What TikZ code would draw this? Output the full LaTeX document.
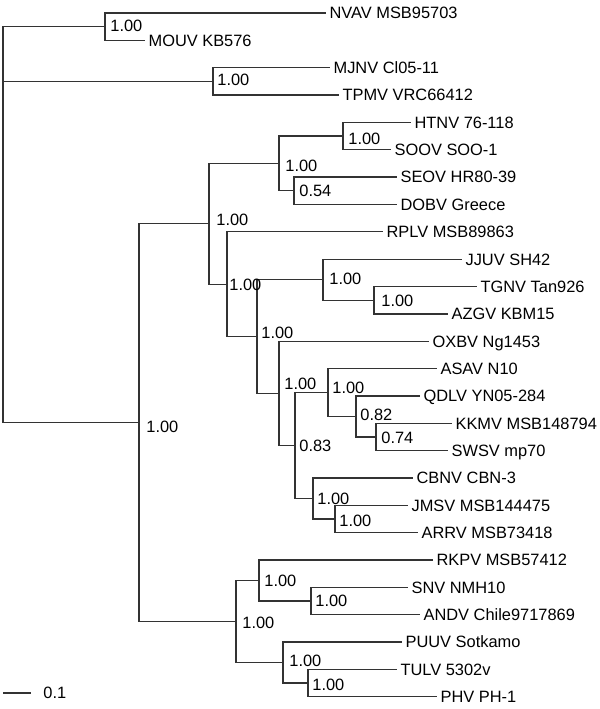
\documentclass[tikz,border=0pt]{standalone}
\usepackage{fontspec}
\setmainfont{Liberation Sans}
\begin{document}
\begin{tikzpicture}[x=0.5pt, y=-0.5pt, line join=miter,
	branch/.style={draw=black!80, line width=0.65pt},
	taxon/.style={anchor=west, inner xsep=1.6pt, inner ysep=0pt, text height=5.87pt, text depth=0pt, font=\fontsize{8.2}{10}\selectfont},
	support/.style={anchor=west, inner sep=0pt, text height=5.87pt, text depth=0pt, font=\fontsize{8.2}{10}\selectfont}]
	\useasboundingbox (0,0) rectangle (600,709);
	% taxa
	\node[taxon] (nvav) at (326,13) {NVAV MSB95703};
	\node[taxon] (mouv) at (145,40.4) {MOUV KB576};
	\node[taxon] (mjnv) at (330,67.7) {MJNV Cl05-11};
	\node[taxon] (tpmv) at (339,95.1) {TPMV VRC66412};
	\node[taxon] (htnv) at (411,122.4) {HTNV 76-118};
	\node[taxon] (soov) at (391,149.8) {SOOV SOO-1};
	\node[taxon] (seov) at (397,177.1) {SEOV HR80-39};
	\node[taxon] (dobv) at (397,204.5) {DOBV Greece};
	\node[taxon] (rplv) at (383,231.8) {RPLV MSB89863};
	\node[taxon] (jjuv) at (462,259.2) {JJUV SH42};
	\node[taxon] (tgnv) at (477,286.5) {TGNV Tan926};
	\node[taxon] (azgv) at (448,313.9) {AZGV KBM15};
	\node[taxon] (oxbv) at (429,341.2) {OXBV Ng1453};
	\node[taxon] (asav) at (437,368.6) {ASAV N10};
	\node[taxon] (qdlv) at (420,395.9) {QDLV YN05-284};
	\node[taxon] (kkmv) at (452,423.3) {KKMV MSB148794};
	\node[taxon] (swsv) at (448,450.6) {SWSV mp70};
	\node[taxon] (cbnv) at (413,478) {CBNV CBN-3};
	\node[taxon] (jmsv) at (408,505.3) {JMSV MSB144475};
	\node[taxon] (arrv) at (418,532.7) {ARRV MSB73418};
	\node[taxon] (rkpv) at (433,560) {RKPV MSB57412};
	\node[taxon] (snv) at (408,587.4) {SNV NMH10};
	\node[taxon] (andv) at (420,614.7) {ANDV Chile9717869};
	\node[taxon] (puuv) at (402,642.1) {PUUV Sotkamo};
	\node[taxon] (tulv) at (397,669.4) {TULV 5302v};
	\node[taxon] (phv) at (437,696.8) {PHV PH-1};
	% internal nodes
	\coordinate (root) at (3,224.7);
	\coordinate (nMou) at (105,26.7);
	\coordinate (nMjn) at (213,81.4);
	\coordinate (nA) at (139,422.7);
	\coordinate (nB) at (209,223.8);
	\coordinate (nC) at (279,163.4);
	\coordinate (nD) at (343,136.1);
	\coordinate (nE) at (294,190.8);
	\coordinate (nF) at (227,284.2);
	\coordinate (nG) at (257,336.5);
	\coordinate (nH) at (323,279.7);
	\coordinate (nJ) at (374,300.2);
	\coordinate (nI) at (279,393.3);
	\coordinate (nL) at (295,445.5);
	\coordinate (nM) at (328,392.5);
	\coordinate (nP) at (356,416.4);
	\coordinate (nQ) at (376,436.9);
	\coordinate (nN) at (313,498.5);
	\coordinate (nO) at (335,519);
	\coordinate (nR) at (236,621.5);
	\coordinate (nS) at (259,580.5);
	\coordinate (nT) at (311,601);
	\coordinate (nU) at (283,662.6);
	\coordinate (nV) at (308,683.1);
	% branches
	\draw[branch] (root) |- (nMou) (root) |- (nMjn) (root) |- (nA);
	\draw[branch] (nMou) |- (nvav.west) (nMou) |- (mouv.west);
	\draw[branch] (nMjn) |- (mjnv.west) (nMjn) |- (tpmv.west);
	\draw[branch] (nA) |- (nB) (nA) |- (nR);
	\draw[branch] (nB) |- (nC) (nB) |- (nF);
	\draw[branch] (nC) |- (nD) (nC) |- (nE);
	\draw[branch] (nD) |- (htnv.west) (nD) |- (soov.west);
	\draw[branch] (nE) |- (seov.west) (nE) |- (dobv.west);
	\draw[branch] (nF) |- (rplv.west) (nF) |- (nG);
	\draw[branch] (nG) |- (nH) (nG) |- (nI);
	\draw[branch] (nH) |- (jjuv.west) (nH) |- (nJ);
	\draw[branch] (nJ) |- (tgnv.west) (nJ) |- (azgv.west);
	\draw[branch] (nI) |- (oxbv.west) (nI) |- (nL);
	\draw[branch] (nL) |- (nM) (nL) |- (nN);
	\draw[branch] (nM) |- (asav.west) (nM) |- (nP);
	\draw[branch] (nP) |- (qdlv.west) (nP) |- (nQ);
	\draw[branch] (nQ) |- (kkmv.west) (nQ) |- (swsv.west);
	\draw[branch] (nN) |- (cbnv.west) (nN) |- (nO);
	\draw[branch] (nO) |- (jmsv.west) (nO) |- (arrv.west);
	\draw[branch] (nR) |- (nS) (nR) |- (nU);
	\draw[branch] (nS) |- (rkpv.west) (nS) |- (nT);
	\draw[branch] (nT) |- (snv.west) (nT) |- (andv.west);
	\draw[branch] (nU) |- (puuv.west) (nU) |- (nV);
	\draw[branch] (nV) |- (tulv.west) (nV) |- (phv.west);
	% support values
	\node[support] (sMou) at (110,25.5) {1.00};
	\node[support] (sMjn) at (217,79.5) {1.00};
	\node[support] (sA) at (146,426.5) {1.00};
	\node[support] (sB) at (216,219.5) {1.00};
	\node[support] (sC) at (285,166) {1.00};
	\node[support] (sD) at (348,139) {1.00};
	\node[support] (sE) at (299,191) {0.54};
	\node[support] (sF) at (229,285) {1.00};
	\node[support] (sG) at (261,332.5) {1.00};
	\node[support] (sH) at (329,279) {1.00};
	\node[support] (sJ) at (381,301) {1.00};
	\node[support] (sI) at (284,383.5) {1.00};
	\node[support] (sM) at (332,388) {1.00};
	\node[support] (sP) at (360,414.5) {0.82};
	\node[support] (sQ) at (381,437.5) {0.74};
	\node[support] (sL) at (299,446) {0.83};
	\node[support] (sN) at (317,499) {1.00};
	\node[support] (sO) at (339,521) {1.00};
	\node[support] (sR) at (242,623) {1.00};
	\node[support] (sS) at (264,581) {1.00};
	\node[support] (sT) at (315,601) {1.00};
	\node[support] (sU) at (289,661) {1.00};
	\node[support] (sV) at (312,685) {1.00};
	% scale bar
	\coordinate (sb0) at (3,693);
	\coordinate (sb1) at (31,693);
	\draw[branch] (sb0) -- (sb1);
	\node[support] (sbl) at (43,693) {0.1};
\end{tikzpicture}
\end{document}
